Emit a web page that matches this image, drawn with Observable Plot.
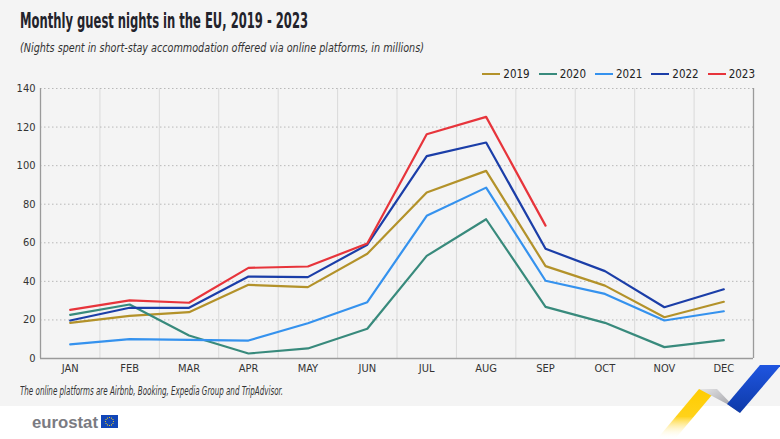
<!DOCTYPE html>
<html>
<head>
<meta charset="utf-8">
<script src="https://cdn.jsdelivr.net/npm/d3@7"></script>
<script src="https://cdn.jsdelivr.net/npm/@observablehq/plot@0.6"></script>
<style>
  body { margin: 0; background: #ffffff; }
  #page { position: relative; width: 780px; height: 439px; overflow: hidden; background: #ffffff;
          font-family: "DejaVu Sans Condensed", "DejaVu Sans", sans-serif; font-stretch: condensed; }
  #page svg text { font-stretch: condensed; }
  #panel { position: absolute; left: 0; top: 0; width: 780px; height: 406px; background: #f4f4f4; }
  .fit { transform-origin: 0 0; }
  #title { position: absolute; left: 20px; top: 9px; font-size: 21px; font-weight: bold; color: #23232b; white-space: nowrap; }
  #subtitle { position: absolute; left: 20px; top: 40px; font-size: 12.5px; font-style: italic; color: #333; white-space: nowrap; }
  #legend { position: absolute; right: 25px; top: 67px; display: flex; gap: 9px; font-size: 11.5px; color: #222; }
  #legend .item { display: flex; align-items: center; gap: 3px; }
  #legend .sw { display: inline-block; width: 18px; height: 2.5px; }
  #chart { position: absolute; left: 0; top: 80px; }
  #note { position: absolute; left: 20px; top: 384px; font-size: 12px; font-style: italic; color: #333; white-space: nowrap; }
  #logo { position: absolute; left: 0; top: 406px; }
  #ribbon { position: absolute; left: 0; top: 0; pointer-events: none; }
</style>
</head>
<body>
<div id="page">
  <div id="panel"></div>
  <div id="title" class="fit" data-w="288">Monthly guest nights in the EU, 2019 - 2023</div>
  <div id="subtitle" class="fit" data-w="404">(Nights spent in short-stay accommodation offered via online platforms, in millions)</div>
  <div id="legend"></div>
  <div id="chart"></div>
  <div id="note" class="fit" data-w="263">The online platforms are Airbnb, Booking, Expedia Group and TripAdvisor.</div>
  <svg id="logo" width="200" height="33">
    <text x="32" y="22" font-family="Liberation Sans, Arial, sans-serif" font-weight="bold" font-size="17" fill="#7b7b82" textLength="66" lengthAdjust="spacingAndGlyphs" style="font-stretch:normal">eurostat</text>
    <rect x="101" y="9" width="17" height="13" fill="#1146b8"/>
    <g id="stars" fill="#ffd617"></g>
  </svg>
  <svg id="ribbon" width="780" height="439">
    <defs>
      <linearGradient id="yel" x1="0" y1="0" x2="0" y2="1">
        <stop offset="0" stop-color="#ffcc00"/>
        <stop offset="0.55" stop-color="#ffd21a"/>
        <stop offset="1" stop-color="#ffffff" stop-opacity="0"/>
      </linearGradient>
      <linearGradient id="gry" x1="0" y1="0" x2="1" y2="1">
        <stop offset="0" stop-color="#e6e6e8"/>
        <stop offset="1" stop-color="#8e8e94"/>
      </linearGradient>
      <linearGradient id="blu" x1="0" y1="0" x2="0" y2="1">
        <stop offset="0" stop-color="#1f55e0"/>
        <stop offset="1" stop-color="#0e3aa8"/>
      </linearGradient>
    </defs>
    <polygon points="699,389 717,389 675,439 657,439" fill="url(#yel)"/>
    <polygon points="699,389 717,389 740,413 727,404" fill="url(#gry)"/>
    <polygon points="760,365 781,365 740,413 727,404" fill="url(#blu)"/>
  </svg>
</div>
<script>
// ---- data ----
const months = ["JAN","FEB","MAR","APR","MAY","JUN","JUL","AUG","SEP","OCT","NOV","DEC"];
const years = ["2019","2020","2021","2022","2023"];
const v2019 = [18.5, 22.1, 24.0, 38.2, 37.0, 54.3, 86.1, 97.3, 47.9, 37.8, 21.4, 29.4];
const v2020 = [22.6, 28.0, 11.9, 2.6, 5.2, 15.4, 53.2, 72.2, 26.8, 18.5, 5.9, 9.5];
const v2021 = [7.3, 10.0, 9.7, 9.3, 18.3, 29.2, 74.0, 88.6, 40.3, 33.5, 19.7, 24.5];
const v2022 = [19.7, 26.3, 26.3, 42.5, 42.2, 59.0, 104.9, 112.0, 56.9, 45.3, 26.6, 35.9];
const v2023 = [25.2, 30.1, 28.9, 47.0, 47.7, 59.6, 116.3, 125.3, 68.9];
const yTicks = [0, 20, 40, 60, 80, 100, 120, 140];
const colors = ["#b3922a", "#388a7c", "#3592ee", "#1b3ea8", "#e7343b"];

// ---- tidy table ----
const series = [v2019, v2020, v2021, v2022, v2023];
const rows = [];
series.forEach((vals, s) => vals.forEach((v, i) => rows.push({year: years[s], m: i + 1, value: v})));
const monthPos = months.map((_, i) => i + 1);
const boundaries = months.slice(1).map((_, i) => i + 1.5);

const chart = Plot.plot({
  width: 780,
  height: 300,
  marginLeft: 40,
  marginRight: 27,
  marginTop: 8,
  marginBottom: 22,
  style: {fontFamily: '"DejaVu Sans Condensed", "DejaVu Sans", sans-serif', fontSize: "11px", background: "transparent", color: "#333", overflow: "visible"},
  x: {domain: [0.5, 12.5], label: null},
  y: {domain: [0, 140], label: null},
  color: {domain: years, range: colors},
  marks: [
    Plot.ruleX(boundaries, {stroke: "#dadada", strokeWidth: 1}),
    Plot.ruleY(yTicks.filter(d => d > 0), {stroke: "#b8b8b8", strokeWidth: 1, strokeDasharray: "1.5,2.5"}),
    Plot.ruleX([0.5, 12.5], {stroke: "#9a9a9a", strokeWidth: 1.3}),
    Plot.ruleY([0], {stroke: "#9a9a9a", strokeWidth: 1.3}),
    Plot.line(rows, {x: "m", y: "value", z: "year", stroke: "year", strokeWidth: 2.2}),
    Plot.axisX({ticks: monthPos, tickFormat: i => months[i - 1], tickSize: 0, tickPadding: 6, label: null}),
    Plot.axisY({ticks: yTicks, tickSize: 0, tickPadding: 5, label: null})
  ]
});
document.getElementById("chart").appendChild(chart);

// legend
const leg = document.getElementById("legend");
years.forEach((y, i) => {
  const it = document.createElement("div");
  it.className = "item";
  it.innerHTML = `<span class="sw" style="background:${colors[i]}"></span><span>${y}</span>`;
  leg.appendChild(it);
});

// narrow the header/footer texts to the reference widths (font is not condensed enough)
document.querySelectorAll(".fit").forEach(el => {
  const w = el.getBoundingClientRect().width;
  const target = +el.dataset.w;
  if (w > 0) el.style.transform = `scaleX(${target / w})`;
});

// EU flag stars (decorative)
const g = document.getElementById("stars");
for (let k = 0; k < 12; k++) {
  const a = k / 12 * 2 * Math.PI;
  const c = document.createElementNS("http://www.w3.org/2000/svg", "circle");
  c.setAttribute("cx", 109.5 + 4 * Math.cos(a));
  c.setAttribute("cy", 15.5 + 4 * Math.sin(a));
  c.setAttribute("r", 0.6);
  g.appendChild(c);
}
</script>
</body>
</html>
